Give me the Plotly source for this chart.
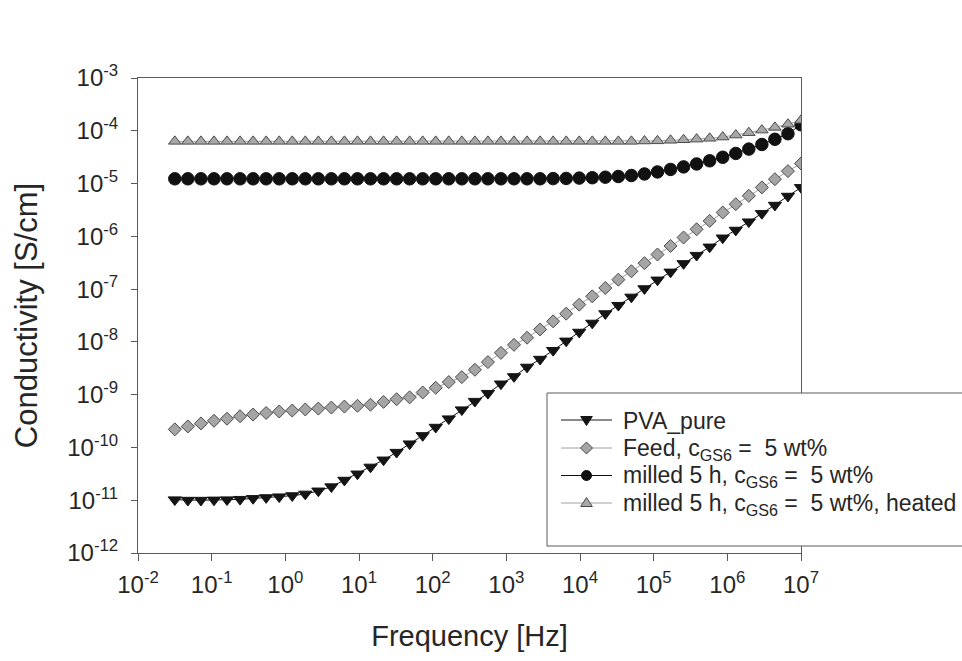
import plotly.graph_objects as go

# Measurement frequencies [Hz]
frequency = [
    0.0316, 0.0475, 0.0715, 0.1075, 0.1616, 0.243, 0.365, 0.549, 0.825,
    1.241, 1.866, 2.805, 4.217, 6.34, 9.53, 14.33, 21.54, 32.4, 48.7, 73.2,
    110.1, 165.5, 248.9, 374.1, 562.3, 845.5, 1271, 1911, 2873, 4319, 6494,
    9763, 14678, 22070, 33180, 49880, 74990, 112700, 169500, 254800, 383100,
    576000, 866000, 1302000, 1957000, 2943000, 4424000, 6651000, 10000000,
]

# Conductivity [S/cm]
pva_pure = [
    1.02e-11, 1.0e-11, 1.0e-11, 1.01e-11, 1.02e-11, 1.04e-11, 1.08e-11, 1.12e-11,
    1.16e-11, 1.22e-11, 1.31e-11, 1.5e-11, 1.8e-11, 2.4e-11, 3.15e-11, 4.25e-11,
    5.8e-11, 8.1e-11, 1.17e-10, 1.68e-10, 2.42e-10, 3.49e-10, 5.17e-10, 7.5e-10,
    1.06e-9, 1.6e-9, 2.2e-9, 3.33e-9, 4.7e-9, 6.9e-9, 1.04e-8, 1.53e-8, 2.27e-8,
    3.43e-8, 4.93e-8, 7.08e-8, 1.02e-7, 1.49e-7, 2.11e-7, 3.05e-7, 4.38e-7,
    6.29e-7, 9.33e-7, 1.31e-6, 1.88e-6, 2.71e-6, 3.89e-6, 5.77e-6, 8.43e-6,
]
feed = [
    2.2e-10, 2.5e-10, 2.85e-10, 3.2e-10, 3.5e-10, 3.9e-10, 4.2e-10, 4.5e-10,
    4.8e-10, 5.0e-10, 5.25e-10, 5.45e-10, 5.7e-10, 5.95e-10, 6.15e-10, 6.45e-10,
    7.3e-10, 8.2e-10, 8.9e-10, 1.1e-9, 1.35e-9, 1.73e-9, 2.15e-9, 2.96e-9,
    4.14e-9, 6.2e-9, 8.8e-9, 1.2e-8, 1.72e-8, 2.45e-8, 3.42e-8, 5.08e-8, 7.3e-8,
    1.05e-7, 1.51e-7, 2.18e-7, 3.1e-7, 4.52e-7, 6.58e-7, 9.5e-7, 1.36e-6,
    1.96e-6, 2.83e-6, 4.07e-6, 5.85e-6, 8.44e-6, 1.21e-5, 1.72e-5, 2.4e-5,
]
milled = [
    1.23e-5, 1.23e-5, 1.23e-5, 1.23e-5, 1.23e-5, 1.23e-5, 1.23e-5, 1.23e-5,
    1.23e-5, 1.23e-5, 1.23e-5, 1.23e-5, 1.23e-5, 1.23e-5, 1.23e-5, 1.23e-5,
    1.23e-5, 1.23e-5, 1.23e-5, 1.23e-5, 1.23e-5, 1.23e-5, 1.23e-5, 1.23e-5,
    1.23e-5, 1.23e-5, 1.23e-5, 1.23e-5, 1.23e-5, 1.24e-5, 1.25e-5, 1.27e-5,
    1.29e-5, 1.32e-5, 1.36e-5, 1.42e-5, 1.52e-5, 1.66e-5, 1.85e-5, 2.07e-5,
    2.35e-5, 2.7e-5, 3.15e-5, 3.72e-5, 4.5e-5, 5.5e-5, 6.9e-5, 8.8e-5, 1.3e-4,
]
milled_heated = [
    6.3e-5, 6.3e-5, 6.3e-5, 6.3e-5, 6.3e-5, 6.3e-5, 6.3e-5, 6.3e-5, 6.3e-5,
    6.3e-5, 6.3e-5, 6.3e-5, 6.3e-5, 6.3e-5, 6.3e-5, 6.3e-5, 6.3e-5, 6.3e-5,
    6.3e-5, 6.3e-5, 6.3e-5, 6.3e-5, 6.3e-5, 6.3e-5, 6.3e-5, 6.3e-5, 6.3e-5,
    6.3e-5, 6.3e-5, 6.3e-5, 6.3e-5, 6.3e-5, 6.3e-5, 6.3e-5, 6.3e-5, 6.3e-5,
    6.4e-5, 6.45e-5, 6.6e-5, 6.75e-5, 6.95e-5, 7.2e-5, 7.6e-5, 8.3e-5, 9.2e-5,
    1.03e-4, 1.16e-4, 1.33e-4, 1.58e-4,
]

series_names = [
    "PVA_pure",
    "Feed, c<sub>GS6</sub> =\u00a0 5 wt%",
    "milled 5 h, c<sub>GS6</sub> =\u00a0 5 wt%",
    "milled 5 h, c<sub>GS6</sub> =\u00a0 5 wt%, heated",
]

x_exponents = [-2, -1, 0, 1, 2, 3, 4, 5, 6, 7]
y_exponents = [-12, -11, -10, -9, -8, -7, -6, -5, -4, -3]

FONT = "Liberation Sans, Arial, sans-serif"
TEXT = "#262626"
AXIS = "#5a5a5a"

W, H = 962, 661
ML, MR, MT, MB = 138, 161, 78, 108
PW, PH = W - ML - MR, H - MT - MB

styles = [
    dict(values=pva_pure, symbol="triangle-down", fill="#141414", edge="#141414",
         line="#141414", size=11.5),
    dict(values=feed, symbol="diamond", fill="#a5a5a5", edge="#4a4a4a",
         line="#a0a0a0", size=10),
    dict(values=milled, symbol="circle", fill="#111111", edge="#111111",
         line="#111111", size=12.5),
    dict(values=milled_heated, symbol="triangle-up", fill="#a8a8a8", edge="#4a4a4a",
         line="#a0a0a0", size=11),
]

fig = go.Figure()
for name, st in zip(series_names, styles):
    fig.add_trace(go.Scatter(
        x=frequency, y=st["values"], name=name, mode="lines+markers",
        showlegend=False,
        line=dict(color=st["line"], width=1),
        marker=dict(symbol=st["symbol"], size=st["size"], color=st["fill"],
                    line=dict(color=st["edge"], width=1)),
    ))


# --- legend box, drawn in paper coordinates (pixel helpers) ---
def px(xp):
    return (xp - ML) / PW


def py(yp):
    return (H - MB - yp) / PH


def poly(points):
    return "M " + " L ".join(f"{px(a):.5f},{py(b):.5f}" for a, b in points) + " Z"


shapes = [dict(type="rect", xref="paper", yref="paper", layer="above",
               x0=px(547), x1=px(975), y0=py(546), y1=py(393),
               fillcolor="white", line=dict(color=AXIS, width=1))]
annotations = []

row_y = [420, 448, 475.5, 503]
line_x0, line_x1, mark_x, text_x = 561, 612, 586.5, 621

for name, st, ry in zip(series_names, styles, row_y):
    shapes.append(dict(type="line", xref="paper", yref="paper", layer="above",
                       x0=px(line_x0), x1=px(line_x1), y0=py(ry), y1=py(ry),
                       line=dict(color=st["line"], width=1)))
    glyph = dict(xref="paper", yref="paper", layer="above", fillcolor=st["fill"],
                 line=dict(color=st["edge"], width=1))
    if st["symbol"] == "circle":
        r = 5
        glyph.update(type="circle", x0=px(mark_x - r), x1=px(mark_x + r),
                     y0=py(ry + r), y1=py(ry - r))
    elif st["symbol"] == "diamond":
        d = 6
        glyph.update(type="path", path=poly([(mark_x, ry - d), (mark_x + d, ry),
                                             (mark_x, ry + d), (mark_x - d, ry)]))
    elif st["symbol"] == "triangle-down":
        glyph.update(type="path", path=poly([(mark_x - 5.8, ry - 3.5), (mark_x + 5.8, ry - 3.5),
                                             (mark_x, ry + 5.5)]))
    else:
        glyph.update(type="path", path=poly([(mark_x - 5.8, ry + 3.5), (mark_x + 5.8, ry + 3.5),
                                             (mark_x, ry - 5.5)]))
    shapes.append(glyph)
    annotations.append(dict(xref="paper", yref="paper", x=px(text_x), y=py(ry + 1),
                            xanchor="left", yanchor="middle", showarrow=False,
                            text=name, font=dict(family=FONT, size=23, color=TEXT)))

fig.update_layout(
    width=W, height=H,
    margin=dict(l=ML, r=MR, t=MT, b=MB, autoexpand=False),
    paper_bgcolor="white", plot_bgcolor="white",
    font=dict(family=FONT, color=TEXT),
    showlegend=False,
    shapes=shapes,
    annotations=annotations,
    xaxis=dict(
        type="log", range=[-2, 7],
        tickvals=[10.0 ** e for e in x_exponents],
        ticktext=[f"10<sup>{e}</sup>" for e in x_exponents],
        ticks="outside", ticklen=7, tickcolor=AXIS, ticklabelstandoff=3,
        showline=True, linecolor=AXIS, linewidth=1, mirror=True,
        showgrid=False, zeroline=False,
        tickfont=dict(family=FONT, size=24, color=TEXT),
        title=dict(text="Frequency [Hz]", font=dict(family=FONT, size=29, color=TEXT),
                   standoff=28),
    ),
    yaxis=dict(
        type="log", range=[-12, -3],
        tickvals=[10.0 ** e for e in y_exponents],
        ticktext=[f"10<sup>{e}</sup>" for e in y_exponents],
        ticks="outside", ticklen=6, tickcolor=AXIS, ticklabelstandoff=8,
        showline=True, linecolor=AXIS, linewidth=1, mirror=True,
        showgrid=False, zeroline=False,
        tickfont=dict(family=FONT, size=24, color=TEXT),
        title=dict(text="Conductivity [S/cm]", font=dict(family=FONT, size=31, color=TEXT),
                   standoff=20),
    ),
)

fig.write_html("out.html")
